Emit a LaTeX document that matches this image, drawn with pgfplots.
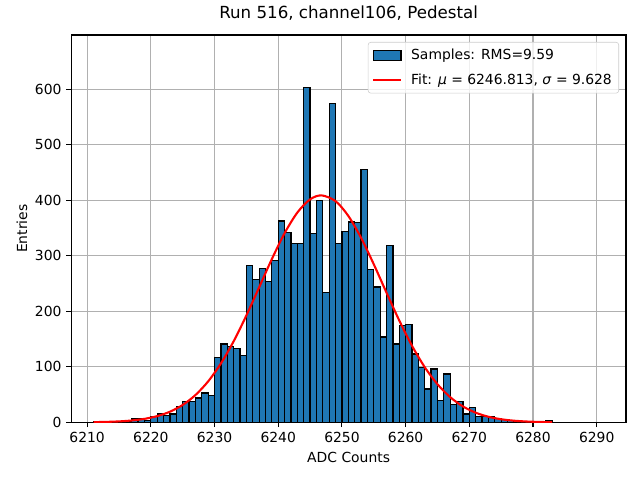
\documentclass[border=0pt]{standalone}
\usepackage{fontspec}
\setmainfont{DejaVu Sans}
\usepackage{pgfplots}
\pgfplotsset{compat=1.18}
\definecolor{mplblue}{HTML}{1F77B4}
\definecolor{gridgray}{HTML}{B0B0B0}
\begin{document}
\begin{tikzpicture}
\path[use as bounding box] (-51.3pt,-41.5pt) rectangle (409.5pt,304.1pt);
\begin{axis}[
  at={(0pt,0pt)}, anchor=south west,
  scale only axis,
  width=399.4pt, height=278.9pt,
  xmin=6207.5, xmax=6294.6,
  ymin=0, ymax=698,
  xtick={6210,6220,...,6290},
  ytick={0,100,...,600},
  /pgf/number format/assume math mode=true,
  /pgf/number format/1000 sep={},
  tick label style={font=\fontsize{10}{12}\selectfont},
  tick align=outside,
  tick pos=left,
  major tick length=3.5pt,
  every tick/.style={black, line width=0.8pt},
  axis line style={black, line width=0.8pt},
  grid=major,
  major grid style={gridgray, line width=0.8pt},
  title={Run 516, channel106, Pedestal},
  title style={at={(0.5,1)}, anchor=base, yshift=6pt, font=\fontsize{12}{14}\selectfont},
  xlabel={ADC Counts},
  ylabel={Entries},
  xlabel style={at={(axis description cs:0.5,-0.0904)}, anchor=center, font=\fontsize{10}{12}\selectfont},
  ylabel style={at={(axis description cs:-0.0889,0.5)}, anchor=center, font=\fontsize{10}{12}\selectfont},
  legend style={at={(1,1)}, anchor=north east, xshift=-5pt, yshift=-5pt,
    draw=black!20, rounded corners=2pt, fill=white, fill opacity=0.8, text opacity=1,
    font=\fontsize{10}{12}\selectfont, inner xsep=3pt, inner ysep=3pt,
    row sep=4.5pt, cells={anchor=west}},
]
\addplot[ybar, bar width=1, bar shift=0pt, fill=mplblue, draw=black, line width=0.9pt,
  legend image code/.code={\draw[sharp corners, fill opacity=1, fill=mplblue, draw=black, line width=0.9pt] (0pt,-3.5pt) rectangle (20pt,3.5pt); \path (24.5pt,0pt);}]
coordinates {
(6211.5,1) (6212.5,0) (6213.5,0) (6214.5,1) (6215.5,1) (6216.5,2) (6217.5,6) (6218.5,6) (6219.5,4)
(6220.5,10) (6221.5,15) (6222.5,12) (6223.5,15) (6224.5,28) (6225.5,38) (6226.5,38) (6227.5,44) (6228.5,53) (6229.5,48)
(6230.5,117) (6231.5,141) (6232.5,137) (6233.5,133) (6234.5,120) (6235.5,282) (6236.5,257) (6237.5,277) (6238.5,254) (6239.5,291)
(6240.5,363) (6241.5,342) (6242.5,322) (6243.5,322) (6244.5,603) (6245.5,340) (6246.5,400) (6247.5,234) (6248.5,574) (6249.5,322)
(6250.5,344) (6251.5,361) (6252.5,360) (6253.5,455) (6254.5,275) (6255.5,244) (6256.5,154) (6257.5,319) (6258.5,141) (6259.5,174)
(6260.5,176) (6261.5,123) (6262.5,99) (6263.5,60) (6264.5,96) (6265.5,40) (6266.5,87) (6267.5,32) (6268.5,38) (6269.5,15)
(6270.5,27) (6271.5,10) (6272.5,10) (6273.5,10) (6274.5,7) (6275.5,5) (6276.5,3) (6277.5,2) (6278.5,2) (6279.5,1)
(6280.5,1) (6281.5,0) (6282.5,3)
};
\addlegendentry{Samples: RMS=9.59}
\addplot[red, line width=1.5pt, smooth, no markers,
  legend image code/.code={\draw[sharp corners, red, line width=1.5pt] (0pt,0pt) -- (20pt,0pt); \path (24.5pt,0pt);}]
coordinates {
(6211,0.40) (6213,0.86) (6215,1.74) (6217,3.39) (6219,6.31) (6221,11.25) (6223,19.2) (6225,31.4)
(6227,49.2) (6229,73.9) (6231,106.2) (6233,146.1) (6235,192.7) (6237,243.3) (6239,294.3) (6241,340.9)
(6243,378.1) (6245,401.8) (6246.8,409.0) (6249,398.6) (6251,372.1) (6253,332.7) (6255,284.9) (6257,233.7)
(6259,183.6) (6261,138.1) (6263,99.5) (6265,68.7) (6267,45.4) (6269,28.7) (6271,17.4) (6273,10.1)
(6275,5.63) (6277,3.00) (6279,1.53) (6281,0.75) (6283,0.35)
};
\addlegendentry{Fit: \textit{μ} = 6246.813, \textit{σ} = 9.628}
\end{axis}
\end{tikzpicture}
\end{document}
